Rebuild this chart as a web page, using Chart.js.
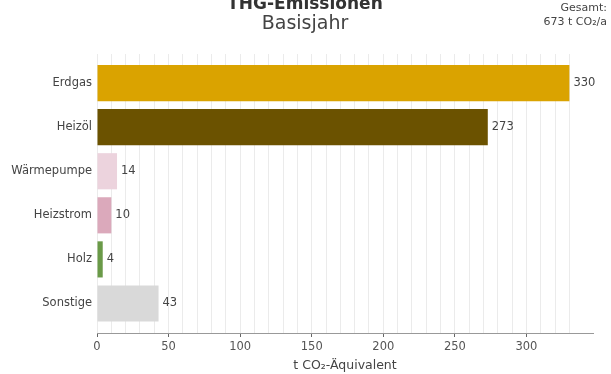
<!DOCTYPE html>
<html>
<head>
<meta charset="utf-8">
<script src="https://cdn.jsdelivr.net/npm/chart.js@4"></script>
<style>
  body { margin: 0; background: #fff; }
  #wrap { width: 611px; height: 374px; }
</style>
</head>
<body>
<div id="wrap"><canvas id="thgChart"></canvas></div>
<script>
const categories = ["Erdgas", "Heizöl", "Wärmepumpe", "Heizstrom", "Holz", "Sonstige"];
const emissions = [330, 273, 14, 10, 4, 43];
const barColors = ["#daa300", "#6b5200", "#ecd3dd", "#dba9bb", "#6a9a48", "#d9d9d9"];
const titleMain = "THG-Emissionen";
const titleSub = "Basisjahr";
const totalLines = ["Gesamt:", "673 t CO₂/a"];
const xTitle = "t CO₂-Äquivalent";

const FONT = "'DejaVu Sans', sans-serif";

// value labels at bar ends
const valueLabels = {
  id: "valueLabels",
  afterDatasetsDraw(chart) {
    const ctx = chart.ctx;
    const meta = chart.getDatasetMeta(0);
    ctx.save();
    ctx.font = "11.5px " + FONT;
    ctx.fillStyle = "#444";
    ctx.textAlign = "left";
    ctx.textBaseline = "middle";
    meta.data.forEach((bar, i) => {
      ctx.fillText(String(emissions[i]), bar.x + 4, bar.y);
    });
    ctx.restore();
  },
};

// titles + total in the corner
const headerText = {
  id: "headerText",
  afterDraw(chart) {
    const ctx = chart.ctx;
    const cx = 305;
    ctx.save();
    ctx.textAlign = "center";
    ctx.textBaseline = "alphabetic";
    ctx.fillStyle = "#333";
    ctx.font = "bold 17px " + FONT;
    ctx.fillText(titleMain, cx, 9);
    ctx.fillStyle = "#444";
    ctx.font = "19px " + FONT;
    ctx.fillText(titleSub, cx, 29);

    ctx.textAlign = "right";
    ctx.font = "11px " + FONT;
    ctx.fillText(totalLines[0], 607, 11);
    ctx.fillText(totalLines[1], 607, 25);
    ctx.restore();
  },
};

const ctx = document.getElementById("thgChart").getContext("2d");
new Chart(ctx, {
  type: "bar",
  data: {
    datasets: [
      {
        data: emissions.map((v, i) => ({ x: v, y: i })),
        backgroundColor: barColors,
        borderWidth: 0,
        categoryPercentage: 1,
        barPercentage: 0.82,
      },
    ],
  },
  options: {
    indexAxis: "y",
    responsive: true,
    maintainAspectRatio: false,
    animation: false,
    layout: { padding: { top: 54, right: 18, left: 0, bottom: 0 } },
    scales: {
      x: {
        type: "linear",
        min: 0,
        max: 346.5,
        afterBuildTicks: (axis) => {
          axis.ticks = axis.ticks.filter((t) => t.value % 10 === 0);
        },
        afterFit: (axis) => {
          axis.height = 41;
        },
        ticks: {
          stepSize: 10,
          autoSkip: false,
          maxRotation: 0,
          padding: 3,
          color: "#555",
          font: { family: FONT, size: 11.5 },
          callback: (v) => (v % 50 === 0 ? String(v) : ""),
        },
        grid: {
          color: "#ebebeb",
          lineWidth: 1,
          tickLength: 4,
          tickColor: (c) => (c.tick && c.tick.value % 50 === 0 ? "#666" : "rgba(0,0,0,0)"),
        },
        border: { display: true, color: "#999", width: 1 },
        title: {
          display: true,
          text: xTitle,
          color: "#444",
          font: { family: FONT, size: 12.5 },
          padding: { top: 0, bottom: 1 },
        },
      },
      y: {
        type: "linear",
        reverse: true,
        offset: false,
        min: -0.66,
        max: 5.67,
        afterBuildTicks: (axis) => {
          axis.ticks = categories.map((_, i) => ({ value: i }));
        },
        afterFit: (axis) => {
          axis.width = 97;
        },
        ticks: {
          padding: 5,
          color: "#444",
          font: { family: FONT, size: 11.5 },
          callback: (v) => categories[v] ?? "",
        },
        grid: { display: false, drawTicks: false },
        border: { display: false },
      },
    },
    plugins: {
      legend: { display: false },
      tooltip: { enabled: false },
    },
  },
  plugins: [valueLabels, headerText],
});
</script>
</body>
</html>
